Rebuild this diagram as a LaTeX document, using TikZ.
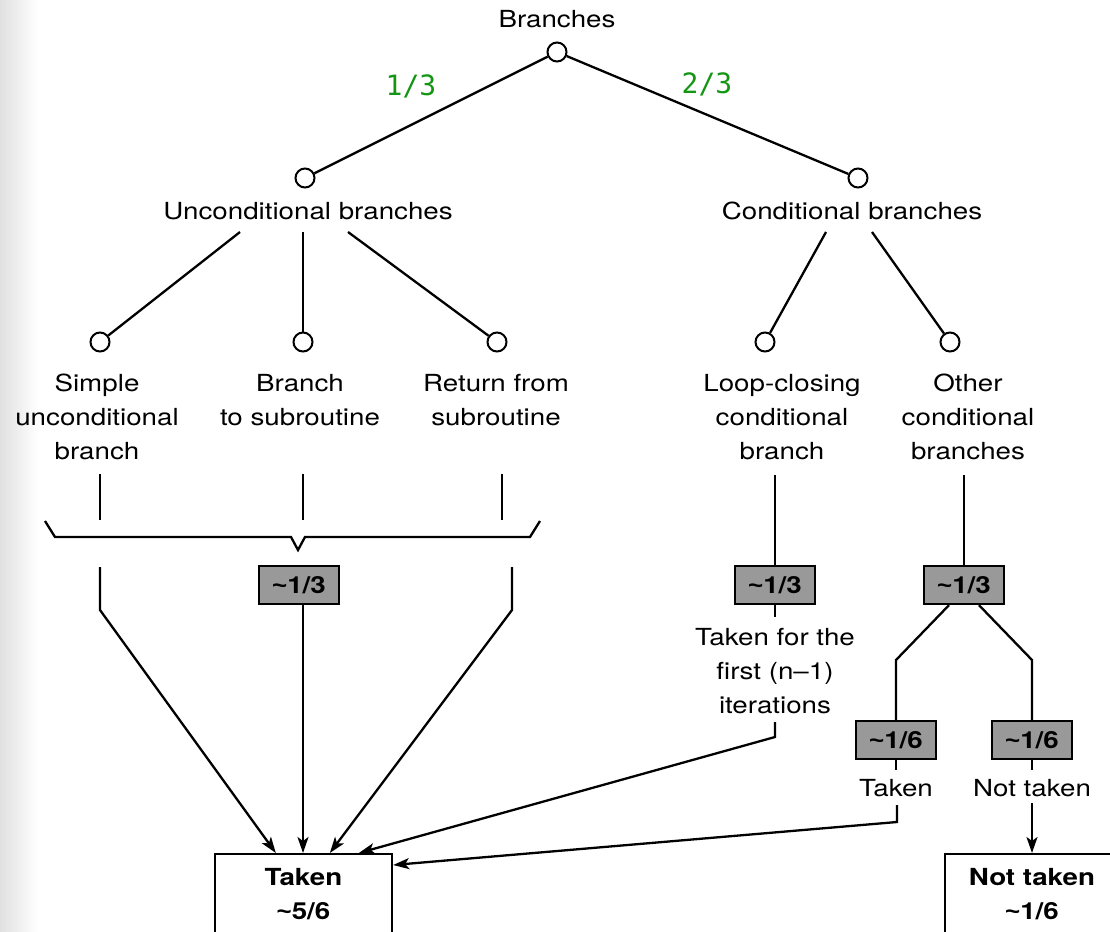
\documentclass[tikz,border=0pt]{standalone}
\usepackage{fontspec}
\setmainfont{TeX Gyre Heros}[FakeStretch=1.18]
\newfontfamily\fracfont{DejaVu Sans Mono}
\newfontfamily\tildefont{Liberation Sans}[FakeStretch=1.1]
\newcommand{\approxsign}{{\tildefont\textasciitilde}}
\usetikzlibrary{arrows.meta}
\definecolor{fracgreen}{RGB}{20,150,20}
\begin{document}
\begin{tikzpicture}[x=1pt,y=-1pt,
  line width=2.3pt,
  every node/.style={font=\fontsize{23.5}{34}\selectfont, inner sep=0pt},
  dot/.style={circle,draw,fill=white,minimum size=19pt,line width=2pt},
  lbl/.style={align=center,anchor=north},
  gbox/.style={draw,fill=black!40,minimum width=80pt,minimum height=38pt,
    font=\fontsize{23.5}{34}\selectfont\bfseries},
  obox/.style={draw,align=center,anchor=north,inner ysep=14pt,minimum width=177pt,
    font=\fontsize{23.5}{34}\selectfont\bfseries},
  frac/.style={text=fracgreen,font=\fracfont\fontsize{28}{30}\selectfont},
  arr/.style={-{Stealth[length=16pt,width=11pt,inset=4pt]}}
]
\clip (0,0) rectangle (1110,931);
% faint scan edge on the left
\shade[left color=black!12,right color=white] (0,0) rectangle (38,931);

% top level
\node (title) at (557,19) {Branches};
\node[dot] (root) at (557,52) {};
\node[dot] (uc) at (305,178) {};
\node[dot] (cc) at (858,178) {};
\draw (root) -- (uc);
\draw (root) -- (cc);
\node[frac] (f1) at (411,86) {1/3};
\node[frac] (f2) at (707,84) {2/3};
\node (ulab) at (308,211) {Unconditional branches};
\node (clab) at (852,211) {Conditional branches};

% second level
\node[dot] (s1) at (100,342) {};
\node[dot] (s2) at (303,342) {};
\node[dot] (s3) at (497,342) {};
\node[dot] (s4) at (765,342) {};
\node[dot] (s5) at (950,342) {};
\coordinate (u1) at (240,232);
\coordinate (u2) at (303,232);
\coordinate (u3) at (348,232);
\coordinate (c1) at (826,232);
\coordinate (c2) at (872,232);
\draw (u1) -- (s1);
\draw (u2) -- (s2);
\draw (u3) -- (s3);
\draw (c1) -- (s4);
\draw (c2) -- (s5);

\node[lbl] (t1) at (97,373) {Simple\\unconditional\\branch};
\node[lbl] (t2) at (300,373) {Branch\\to subroutine};
\node[lbl] (t3) at (496,373) {Return from\\subroutine};
\node[lbl] (t4) at (782,373) {Loop-closing\\conditional\\branch};
\node[lbl] (t5) at (968,373) {Other\\conditional\\branches};

% brace gathering the unconditional kinds
\draw (100,474) -- (100,520);
\draw (303,474) -- (303,520);
\draw (502,474) -- (502,520);
\draw[line join=miter] (45,521) -- (55,537) -- (291,537) -- (298,550) -- (305,537) -- (530,537) -- (540,521);
\node[gbox] (g1) at (299,585) {\approxsign1/3};

% outcomes
\node[obox] (taken) at (303.5,853) {Taken\\\approxsign5/6};
\node[obox,minimum width=174pt] (ntaken) at (1032,853) {Not taken\\\approxsign1/6};

\draw[arr] (100,567) -- (100,610) -- ([xshift=62pt]taken.north west);
\draw[arr] ([xshift=4pt]g1.south) -- ([xshift=4pt]g1.south |- taken.north);
\draw[arr] (512,567) -- (512,610) -- ([xshift=116pt]taken.north west);

% loop-closing branch
\node[gbox] (g2) at (775,585) {\approxsign1/3};
\coordinate (lc) at (775,475);
\draw (lc) -- (g2);
\node[lbl] (t6) at (775,627) {Taken for the\\first (n--1)\\iterations};
\draw[shorten >=10pt] (g2) -- (t6);
\draw[arr] (775,722) -- (775,737) -- ([xshift=145pt]taken.north west);

% other conditional branches
\node[gbox] (g3) at (964,585) {\approxsign1/3};
\coordinate (oc) at (964,475);
\draw (oc) -- (g3);
\node[gbox] (g4) at (896,740) {\approxsign1/6};
\node[gbox] (g5) at (1032,740) {\approxsign1/6};
\draw ([xshift=-15pt]g3.south) -- (896,660) -- (g4);
\draw ([xshift=15pt]g3.south) -- (1032,660) -- (g5);
\node (tk) at (896,788) {Taken};
\node (nt) at (1032,788) {Not taken};
\draw[shorten >=8pt] (g4) -- (tk);
\draw[shorten >=8pt] (g5) -- (nt);
\draw[arr] (897,805) -- (897,822) -- ([yshift=-12pt]taken.north east);
\draw[arr] (1032,803) -- (ntaken.north);
\end{tikzpicture}
\end{document}
